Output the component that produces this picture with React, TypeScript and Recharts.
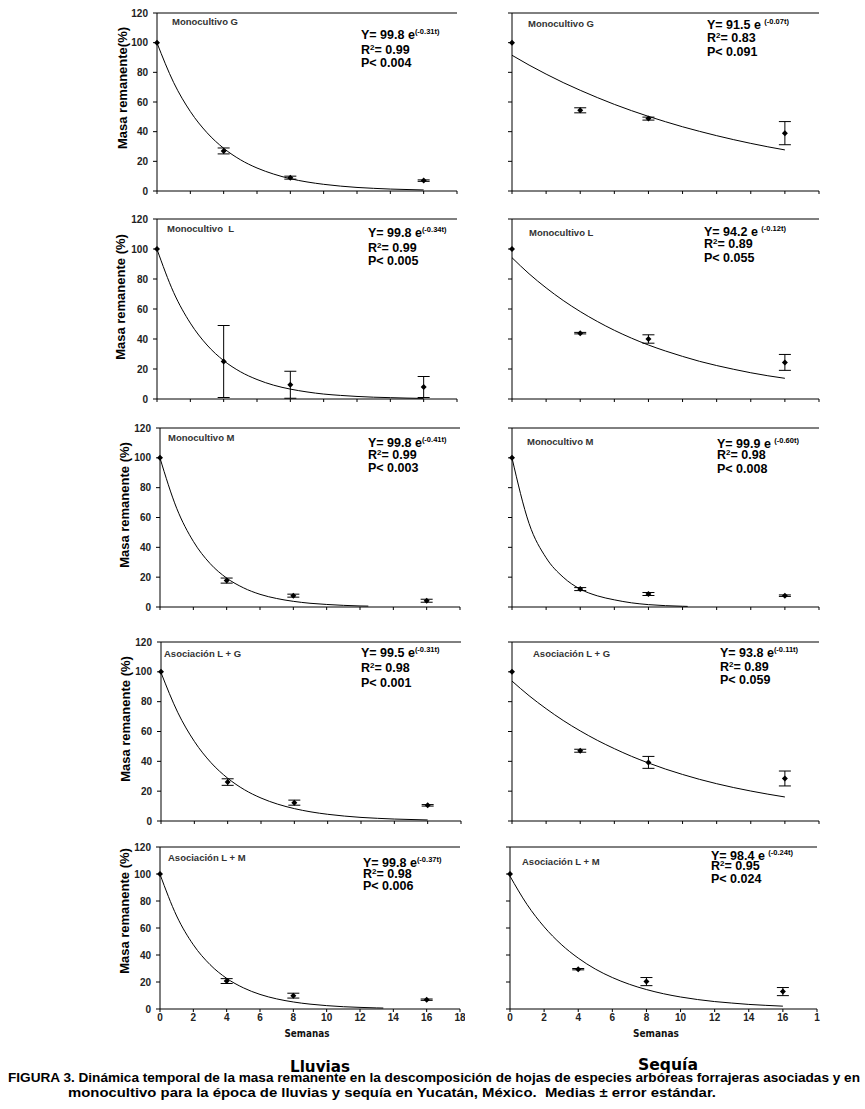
import React from "react";
import {
  ComposedChart,
  XAxis,
  YAxis,
  Line,
  Scatter,
  ErrorBar,
  ReferenceLine,
} from "recharts";

// ---------- data ----------
const weeks = [0, 4, 8, 16];
const xTicks = [0, 2, 4, 6, 8, 10, 12, 14, 16, 18];
const yTicks = [0, 20, 40, 60, 80, 100, 120];
const xTickLabelsLeft = ["0", "2", "4", "6", "8", "10", "12", "14", "16", "18"];
const xTickLabelsRight = ["0", "2", "4", "6", "8", "10", "12", "14", "16", "1"];

// fit curve sample weeks
const fitWeeksFull = [0, 1, 2, 3, 4, 5, 6, 7, 8, 9, 10, 11, 12, 13, 14, 15, 16];
const fitWeeksM = [0, 1, 2, 3, 4, 5, 6, 7, 8, 9, 10, 11, 12, 12.5];
const fitWeeksLM = [0, 1, 2, 3, 4, 5, 6, 7, 8, 9, 10, 11, 12, 13, 13.4];
const fitWeeksSM = [0, 1, 2, 3, 4, 5, 6, 7, 8, 9, 10, 10.3];

// Lluvias (rainy season)
const lluviasG_mean = [100, 27, 9, 7];
const lluviasG_err = [0, 2, 1, 0.5];
const lluviasG_fit = [99.8, 73.1, 53.6, 39.3, 28.8, 21.1, 15.5, 11.4, 8.3, 6.1, 4.5, 3.3, 2.4, 1.8, 1.3, 1.0, 0.7];

const lluviasL_mean = [100, 25, 9.5, 8];
const lluviasL_err = [0, 24, 9, 7];
const lluviasL_fit = [99.8, 71.0, 50.6, 36.0, 25.6, 18.2, 13.0, 9.2, 6.6, 4.7, 3.3, 2.4, 1.7, 1.2, 0.9, 0.6, 0.4];

const lluviasM_mean = [100, 17.7, 7.6, 4.2];
const lluviasM_err = [0, 1.7, 1, 1];
const lluviasM_fit = [99.8, 66.2, 44.0, 29.2, 19.4, 12.9, 8.5, 5.7, 3.8, 2.5, 1.7, 1.1, 0.7, 0.6];

const lluviasLG_mean = [100, 26.1, 12.3, 10.5];
const lluviasLG_err = [0, 2.2, 1.7, 0.5];
const lluviasLG_fit = [99.5, 72.9, 53.4, 39.1, 28.7, 21.0, 15.4, 11.3, 8.3, 6.1, 4.5, 3.3, 2.4, 1.8, 1.3, 1.0, 0.7];

const lluviasLM_mean = [100, 20.7, 9.9, 6.9];
const lluviasLM_err = [0, 1.8, 1.8, 0.5];
const lluviasLM_fit = [99.8, 68.9, 47.6, 32.9, 22.7, 15.7, 10.8, 7.5, 5.2, 3.6, 2.5, 1.7, 1.2, 0.8, 0.7];

// Sequía (dry season)
const sequiaG_mean = [100, 54.4, 48.8, 39];
const sequiaG_err = [0, 1.7, 1, 7.8];
const sequiaG_fit = [91.5, 84.9, 78.8, 73.1, 67.9, 63.0, 58.4, 54.2, 50.3, 46.7, 43.3, 40.2, 37.3, 34.6, 32.1, 29.8, 27.7];

const sequiaL_mean = [100, 43.9, 40, 24.4];
const sequiaL_err = [0, 0.5, 2.8, 5.3];
const sequiaL_fit = [94.2, 83.5, 74.1, 65.7, 58.3, 51.7, 45.8, 40.6, 36.0, 32.0, 28.4, 25.1, 22.3, 19.8, 17.5, 15.5, 13.8];

const sequiaM_mean = [100, 12, 8.7, 7.6];
const sequiaM_err = [0, 1, 1, 0.5];
const sequiaM_fit = [99.9, 56, 33, 20, 12, 7.5, 4.8, 2.8, 1.6, 0.9, 0.5, 0.4];

const sequiaLG_mean = [100, 47.1, 39.3, 28.5];
const sequiaLG_err = [0, 1, 4, 5];
const sequiaLG_fit = [93.8, 84.0, 75.3, 67.4, 60.4, 54.1, 48.5, 43.4, 38.9, 34.8, 31.2, 27.9, 25.0, 22.4, 20.1, 18.0, 16.1];

const sequiaLM_mean = [100, 29.5, 20.3, 12.9];
const sequiaLM_err = [0, 0.5, 3, 3];
const sequiaLM_fit = [98.4, 77.4, 60.9, 47.9, 37.7, 29.6, 23.3, 18.3, 14.4, 11.3, 8.9, 7.0, 5.5, 4.4, 3.4, 2.7, 2.1];

// texts
const titlesLeft = ["Monocultivo G", "Monocultivo  L", "Monocultivo M", "Asociación L + G", "Asociación L + M"];
const titlesRight = ["Monocultivo G", "Monocultivo L", "Monocultivo M", "Asociación L + G", "Asociación L + M"];
const coefLeft = ["99.8", "99.8", "99.8", "99.5", "99.8"];
const expLeft = ["(-0.31t)", "(-0.34t)", "(-0.41t)", "(-0.31t)", "(-0.37t)"];
const r2Left = ["0.99", "0.99", "0.99", "0.98", "0.98"];
const pLeft = ["0.004", "0.005", "0.003", "0.001", "0.006"];
const coefRight = ["91.5", "94.2", "99.9", "93.8", "98.4"];
const expRight = ["(-0.07t)", "(-0.12t)", "(-0.60t)", "(-0.11t)", "(-0.24t)"];
const r2Right = ["0.83", "0.89", "0.98", "0.89", "0.95"];
const pRight = ["0.091", "0.055", "0.008", "0.059", "0.024"];
const yLabels = ["Masa remanente(%)", "Masa remanente (%)", "Masa remanente (%)", "Masa remanente (%)", "Masa remanente (%)"];
const xAxisTitle = "Semanas";
const seasonLeft = "Lluvias";
const seasonRight = "Sequía";
const caption1 = "FIGURA 3. Dinámica temporal de la masa remanente en la descomposición de hojas de especies arbóreas forrajeras asociadas y en";
const caption2 = "monocultivo para la época de lluvias y sequía en Yucatán, México.  Medias ± error estándar.";

// ---------- layout (positions / styles) ----------
const FONT = "'Liberation Sans', Arial, Helvetica, sans-serif";
const rows = [
  { top: 12.7, bottom: 190.7 },
  { top: 219, bottom: 399 },
  { top: 428, bottom: 607 },
  { top: 642, bottom: 821 },
  { top: 847, bottom: 1009 },
];
const plotLeftL = [157, 157, 160, 161, 160];
const plotLeftR = [512, 512, 512, 512, 510];
const plotWL = 300;
const plotWR = 307;
const titlePosL = [[172, 21], [167, 228], [168, 437], [164, 653], [168, 857]];
const titlePosR = [[528, 23], [529, 232], [527, 441], [533, 653], [522, 861]];
const eqPosL = [[361, [34, 49, 62]], [368, [232, 247, 260]], [368, [442, 454, 467]], [361, [652, 667, 682]], [363, [862, 873, 885]]];
const eqPosR = [[707, [24, 37, 51]], [704, [231, 243, 257]], [717, [443, 454, 468]], [720, [652, 666, 679]], [711, [855, 865, 878]]];
const yLabelPos = [[122, 88], [120, 297], [124, 505], [125, 719], [124, 911]];

const toPts = (mean: number[], err: number[]) =>
  weeks.map((t, i) => ({ t, y: mean[i], err: err[i] }));
const toFit = (tw: number[], v: number[]) => tw.map((t, i) => ({ t, y: v[i] }));

const leftPanels = [
  { pts: toPts(lluviasG_mean, lluviasG_err), fit: toFit(fitWeeksFull, lluviasG_fit) },
  { pts: toPts(lluviasL_mean, lluviasL_err), fit: toFit(fitWeeksFull, lluviasL_fit) },
  { pts: toPts(lluviasM_mean, lluviasM_err), fit: toFit(fitWeeksM, lluviasM_fit) },
  { pts: toPts(lluviasLG_mean, lluviasLG_err), fit: toFit(fitWeeksFull, lluviasLG_fit) },
  { pts: toPts(lluviasLM_mean, lluviasLM_err), fit: toFit(fitWeeksLM, lluviasLM_fit) },
];
const rightPanels = [
  { pts: toPts(sequiaG_mean, sequiaG_err), fit: toFit(fitWeeksFull, sequiaG_fit) },
  { pts: toPts(sequiaL_mean, sequiaL_err), fit: toFit(fitWeeksFull, sequiaL_fit) },
  { pts: toPts(sequiaM_mean, sequiaM_err), fit: toFit(fitWeeksSM, sequiaM_fit) },
  { pts: toPts(sequiaLG_mean, sequiaLG_err), fit: toFit(fitWeeksFull, sequiaLG_fit) },
  { pts: toPts(sequiaLM_mean, sequiaLM_err), fit: toFit(fitWeeksFull, sequiaLM_fit) },
];

const Diamond = (props: any) => {
  const { cx, cy } = props;
  if (cx == null || cy == null) return <g />;
  return (
    <path
      d={`M${cx},${cy - 3}L${cx + 3},${cy}L${cx},${cy + 3}L${cx - 3},${cy}Z`}
      fill="#000"
    />
  );
};

type PanelProps = {
  left: number;
  top: number;
  plotW: number;
  plotH: number;
  pts: any[];
  fit: any[];
  showY: boolean;
  xLabels: string[] | null;
};

const YW = 30;
const XH = 20;
const MT = 5;
const MR = 5;

function Panel({ left, top, plotW, plotH, pts, fit, showY, xLabels }: PanelProps) {
  const W = YW + plotW + MR;
  const H = MT + plotH + XH;
  const tickStyle = { fill: "#222", fontSize: 10, fontWeight: "bold", fontFamily: FONT };
  return (
    <div style={{ position: "absolute", left: left - YW, top: top - MT }}>
      <ComposedChart width={W} height={H} margin={{ top: MT, right: MR, left: 0, bottom: 0 }}>
        <XAxis
          type="number"
          dataKey="t"
          domain={[0, 18]}
          ticks={xTicks}
          interval={0}
          height={XH}
          axisLine={{ stroke: "#000" }}
          tickLine={{ stroke: "#000" }}
          tickSize={3}
          tickMargin={2}
          tick={tickStyle}
          tickFormatter={(v: number, i: number) => (xLabels ? xLabels[i] : "")}
        />
        <YAxis
          type="number"
          domain={[0, 120]}
          ticks={yTicks}
          interval={0}
          width={YW}
          axisLine={{ stroke: "#000" }}
          tickLine={{ stroke: "#000" }}
          tickSize={4}
          tickMargin={5}
          tick={tickStyle}
          tickFormatter={(v: number) => (showY ? String(v) : "")}
        />
        <ReferenceLine y={120} stroke="#000" strokeWidth={1} />
        <Line
          data={fit}
          dataKey="y"
          type="monotone"
          stroke="#000"
          strokeWidth={1}
          dot={false}
          activeDot={false}
          isAnimationActive={false}
        />
        <Scatter data={pts} dataKey="y" shape={Diamond} isAnimationActive={false}>
          <ErrorBar dataKey="err" direction="y" width={6} stroke="#000" strokeWidth={1} />
        </Scatter>
      </ComposedChart>
    </div>
  );
}

function Equation({ x, ys, coef, exp, r2, p, spaced }: any) {
  const fs = 12.5;
  return (
    <g fontFamily={FONT} fontWeight="bold" fontSize={fs} fill="#000">
      <text x={x} y={ys[0] + 4.5}>
        {`Y= ${coef}${spaced ? "  " : " "}e`}
        {spaced ? " " : ""}
        <tspan fontSize={7.5} dy={-5}>{exp}</tspan>
      </text>
      <text x={x} y={ys[1] + 4.5}>
        R<tspan fontSize={8} dy={-4}>2</tspan>
        <tspan dy={4}>{`= ${r2}`}</tspan>
      </text>
      <text x={x} y={ys[2] + 4.5}>{`P< ${p}`}</text>
    </g>
  );
}

export default function App() {
  return (
    <div
      style={{
        position: "absolute",
        left: 0,
        top: 0,
        width: 865,
        height: 1109,
        background: "#fff",
        overflow: "hidden",
      }}
    >
      {leftPanels.map((pn, i) => (
        <Panel
          key={"L" + i}
          left={plotLeftL[i]}
          top={rows[i].top}
          plotW={plotWL}
          plotH={rows[i].bottom - rows[i].top}
          pts={pn.pts}
          fit={pn.fit}
          showY={true}
          xLabels={i === 4 ? xTickLabelsLeft : null}
        />
      ))}
      {rightPanels.map((pn, i) => (
        <Panel
          key={"R" + i}
          left={plotLeftR[i]}
          top={rows[i].top}
          plotW={plotWR}
          plotH={rows[i].bottom - rows[i].top}
          pts={pn.pts}
          fit={pn.fit}
          showY={false}
          xLabels={i === 4 ? xTickLabelsRight : null}
        />
      ))}
      <svg
        width={865}
        height={1109}
        style={{ position: "absolute", left: 0, top: 0, pointerEvents: "none" }}
      >
        {yLabels.map((t, i) => (
          <text
            key={"yl" + i}
            transform={`translate(${yLabelPos[i][0]},${yLabelPos[i][1]}) rotate(-90)`}
            textAnchor="middle"
            dominantBaseline="central"
            fontFamily={FONT}
            fontWeight="bold"
            fontSize={13}
            fill="#000"
          >
            {t}
          </text>
        ))}
        {titlesLeft.map((t, i) => (
          <text
            key={"tl" + i}
            x={titlePosL[i][0]}
            y={titlePosL[i][1] + 3.5}
            fontFamily={FONT}
            fontWeight="bold"
            fontSize={9.5}
            fill="#333"
            style={{ whiteSpace: "pre" }}
          >
            {t}
          </text>
        ))}
        {titlesRight.map((t, i) => (
          <text
            key={"tr" + i}
            x={titlePosR[i][0]}
            y={titlePosR[i][1] + 3.5}
            fontFamily={FONT}
            fontWeight="bold"
            fontSize={9.5}
            fill="#333"
          >
            {t}
          </text>
        ))}
        {coefLeft.map((c, i) => (
          <Equation
            key={"el" + i}
            x={eqPosL[i][0]}
            ys={eqPosL[i][1]}
            coef={c}
            exp={expLeft[i]}
            r2={r2Left[i]}
            p={pLeft[i]}
            spaced={false}
          />
        ))}
        {coefRight.map((c, i) => (
          <Equation
            key={"er" + i}
            x={eqPosR[i][0]}
            ys={eqPosR[i][1]}
            coef={c}
            exp={expRight[i]}
            r2={r2Right[i]}
            p={pRight[i]}
            spaced={i !== 3}
          />
        ))}
        <text x={307} y={1037} textAnchor="middle" fontFamily="'DejaVu Sans', Verdana, sans-serif" fontWeight="bold" fontSize={10} textLength={45} lengthAdjust="spacingAndGlyphs" fill="#111">
          {xAxisTitle}
        </text>
        <text x={656} y={1037} textAnchor="middle" fontFamily="'DejaVu Sans', Verdana, sans-serif" fontWeight="bold" fontSize={10} textLength={46} lengthAdjust="spacingAndGlyphs" fill="#111">
          {xAxisTitle}
        </text>
        <text x={320} y={1072} textAnchor="middle" fontFamily="'DejaVu Sans', Verdana, sans-serif" fontWeight="bold" fontSize={16} textLength={60} lengthAdjust="spacingAndGlyphs" fill="#000">
          {seasonLeft}
        </text>
        <text x={668} y={1070} textAnchor="middle" fontFamily="'DejaVu Sans', Verdana, sans-serif" fontWeight="bold" fontSize={16} textLength={60} lengthAdjust="spacingAndGlyphs" fill="#000">
          {seasonRight}
        </text>
        <text x={8} y={1082} fontFamily={FONT} fontWeight="bold" fontSize={12.5} textLength={852} lengthAdjust="spacingAndGlyphs" fill="#000">
          {caption1}
        </text>
        <text x={68} y={1097} fontFamily={FONT} fontWeight="bold" fontSize={12.5} textLength={648} lengthAdjust="spacingAndGlyphs" fill="#000" style={{ whiteSpace: "pre" }}>
          {caption2}
        </text>
      </svg>
    </div>
  );
}
